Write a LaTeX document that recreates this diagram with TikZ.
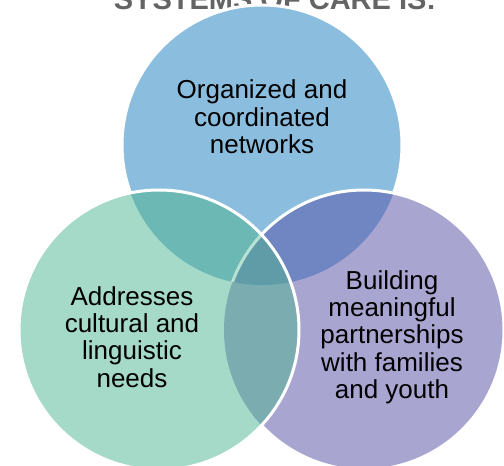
\documentclass[tikz,border=0pt]{standalone}
\usepackage{fontspec}
\setmainfont{Liberation Sans}
\definecolor{topc}{HTML}{8BBEDE}
\definecolor{leftc}{HTML}{A5D9C8}
\definecolor{rightc}{HTML}{A9A5D1}
\definecolor{tlc}{HTML}{6CB8B5}
\definecolor{trc}{HTML}{6F86C2}
\definecolor{lrc}{HTML}{7AACB0}
\definecolor{cenc}{HTML}{5F9CA8}
\definecolor{titlec}{HTML}{4A4A4A}
\tikzset{
  rim/.style={draw=white, line width=3pt},
  label text/.style={align=center, inner sep=0pt, text=black,
    font=\fontsize{26}{27.3}\selectfont},
}
\begin{document}
\begin{tikzpicture}[x=1pt,y=-1pt]
\clip (0,0) rectangle (504,466);
\fill[white] (0,0) rectangle (504,466);
\coordinate (T) at (262,145);
\coordinate (L) at (159,330);
\coordinate (R) at (364,330);
\def\rad{140}
% title (cropped at the top edge, as in the reference)
\node[anchor=base, inner sep=0pt, text=titlec, opacity=0.85, font=\fontsize{29}{30}\selectfont\bfseries] (title) at (275,9) {SYSTEMS OF CARE IS:};
% top circle
\fill[topc] (T) circle (\rad);
\draw[rim] (T) circle (\rad);
% left and right circles
\fill[leftc] (L) circle (\rad);
\fill[rightc] (R) circle (\rad);
\begin{scope}
  \clip (T) circle (\rad);
  \fill[trc] (R) circle (\rad);
\end{scope}
\draw[rim] (R) circle (\rad);
\begin{scope}
  \clip (L) circle (\rad);
  \fill[leftc] (L) circle (\rad);
  \fill[lrc] (R) circle (\rad);
  \begin{scope}
    \clip (T) circle (\rad);
    \fill[tlc] (L) circle (\rad);
    \fill[cenc] (R) circle (\rad);
    \draw[draw=leftc!80!white, line width=3pt] (R) circle (\rad);
  \end{scope}
\end{scope}
\draw[rim] (L) circle (\rad);
% labels
\node[label text] (ntop) at (262,117) {Organized and\\coordinated\\networks};
\node[label text] (nleft) at (132,337) {Addresses\\cultural and\\linguistic\\needs};
\node[label text] (nright) at (392,337) {Building\\meaningful\\partnerships\\with families\\and youth};
\end{tikzpicture}
\end{document}
